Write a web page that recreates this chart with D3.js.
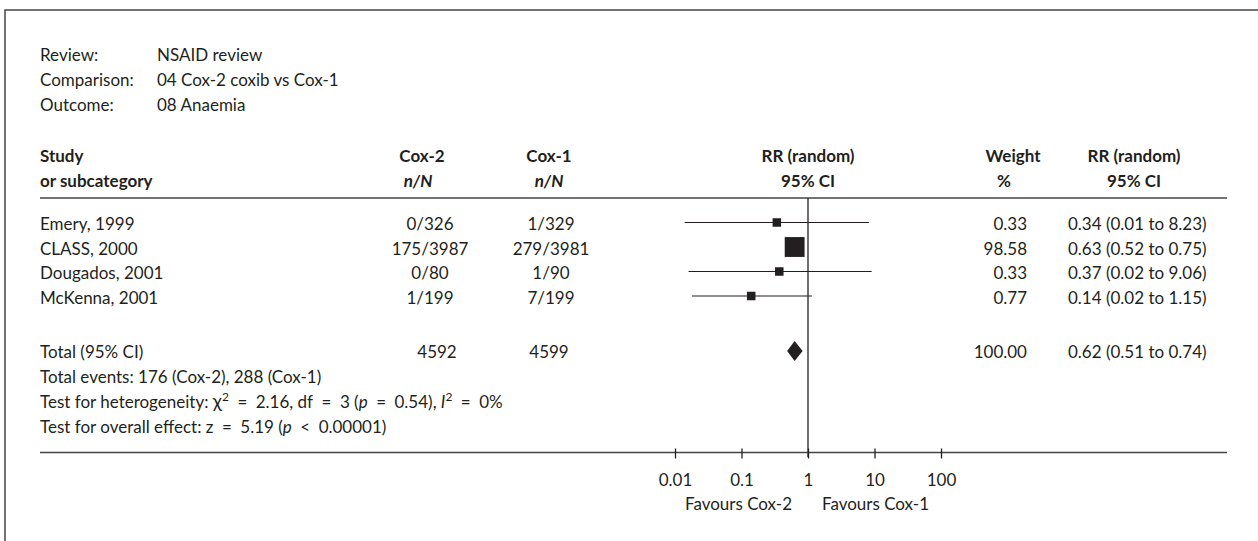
<!DOCTYPE html>
<html>
<head>
<meta charset="utf-8">
<script src="https://cdn.jsdelivr.net/npm/d3@7"></script>
<style>
  html, body { margin: 0; padding: 0; background: #fff; }
  svg text { font-family: Lato, "Open Sans", sans-serif; fill: #231f20; }
</style>
</head>
<body>
<svg id="chart" width="1258" height="541"></svg>
<script>
// ---- data ----
const metaLabels = ["Review:", "Comparison:", "Outcome:"];
const metaValues = ["NSAID review", "04 Cox-2 coxib vs Cox-1", "08 Anaemia"];
const studies = ["Emery, 1999", "CLASS, 2000", "Dougados, 2001", "McKenna, 2001"];
const cox2 = ["0/326", "175/3987", "0/80", "1/199"];
const cox1 = ["1/329", "279/3981", "1/90", "7/199"];
const rr = [0.34, 0.63, 0.37, 0.14];
const ciLow = [0.014, 0.52, 0.016, 0.018];
const ciHigh = [8.23, 0.75, 9.06, 1.15];
const weights = [0.33, 98.58, 0.33, 0.77];
const weightLabels = ["0.33", "98.58", "0.33", "0.77"];
const rrLabels = ["0.34 (0.01 to 8.23)", "0.63 (0.52 to 0.75)", "0.37 (0.02 to 9.06)", "0.14 (0.02 to 1.15)"];
const totalLabel = "Total (95% CI)";
const totalN = ["4592", "4599"];
const totalRR = 0.63;
const totalCI = [0.485, 0.83];
const totalWeight = "100.00";
const totalRRLabel = "0.62 (0.51 to 0.74)";
const tickValues = [0.01, 0.1, 1, 10, 100];
const tickLabels = ["0.01", "0.1", "1", "10", "100"];
const favours = ["Favours Cox-2", "Favours Cox-1"];

// ---- layout ----
const svg = d3.select("#chart");
const FS = 17;
const ink = "#231f20";
const ES = "\u2002"; // en space used around operators
svg.append("rect").attr("width", 1258).attr("height", 541).attr("fill", "#fff");
svg.append("path").attr("d", "M5,541V10H1258").attr("fill", "none").attr("stroke", "#444").attr("stroke-width", 1.5);

const x = d3.scaleLog().domain([0.01, 100]).range([675, 941]);
const rowY = d3.scalePoint().domain(studies).range([222.5, 296]);

function txt(s, xx, yy, anchor, opts = {}) {
  const t = svg.append("text").attr("x", xx).attr("y", yy).attr("text-anchor", anchor || "start")
    .attr("font-size", FS).text(s);
  if (opts.bold) t.attr("font-weight", "bold");
  if (opts.italic) t.attr("font-style", "italic");
  return t;
}

// meta header
metaLabels.forEach((l, i) => {
  txt(l, 40, 61 + i * 25);
  txt(metaValues[i], 157, 61 + i * 25);
});

// column headers
const h1 = 162, h2 = 187;
txt("Study", 40, h1, "start", {bold: true});
txt("or subcategory", 40, h2, "start", {bold: true});
txt("Cox-2", 422, h1, "middle", {bold: true});
txt("n/N", 418, h2, "middle", {bold: true, italic: true});
txt("Cox-1", 549, h1, "middle", {bold: true});
txt("n/N", 549, h2, "middle", {bold: true, italic: true});
txt("RR (random)", x(1), h1, "middle", {bold: true});
txt("95% CI", x(1), h2, "middle", {bold: true});
txt("Weight", 1013, h1, "middle", {bold: true});
txt("%", 1004, h2, "middle", {bold: true});
txt("RR (random)", 1134, h1, "middle", {bold: true});
txt("95% CI", 1134, h2, "middle", {bold: true});

svg.append("line").attr("x1", 40).attr("x2", 1227).attr("y1", 198).attr("y2", 198)
  .attr("stroke", "#444").attr("stroke-width", 1.5);

// rows
const dy = 7.5;
studies.forEach((s, i) => {
  const y = rowY(s);
  txt(s, 40, y + dy);
  txt(cox2[i], 430, y + dy, "middle");
  txt(cox1[i], 551, y + dy, "middle");
  txt(weightLabels[i], 1027, y + dy, "end");
  txt(rrLabels[i], 1068, y + dy, "start");
});

// total and notes
const yT = 351;
const tb = 358;
txt(totalLabel, 40, tb);
txt(totalN[0], 437, tb, "middle");
txt(totalN[1], 549, tb, "middle");
txt(totalWeight, 1027, tb, "end");
txt(totalRRLabel, 1068, tb, "start");
txt("Total events: 176 (Cox-2), 288 (Cox-1)", 40, tb + 25);
const het = txt("", 40, tb + 50);
het.append("tspan").text("Test for heterogeneity: ");
het.append("tspan").attr("font-size", 19).text("\u03c7");
het.append("tspan").attr("dy", -7).attr("font-size", 12).text("2");
het.append("tspan").attr("dy", 7).text(`${ES}=${ES}2.16, df${ES}=${ES}3 (`);
het.append("tspan").attr("font-style", "italic").text("p");
het.append("tspan").text(`${ES}=${ES}0.54), `);
het.append("tspan").attr("font-style", "italic").text("I");
het.append("tspan").attr("dy", -7).attr("font-size", 12).text("2");
het.append("tspan").attr("dy", 7).text(`${ES}=${ES}0%`);
const ov = txt("", 40, tb + 75);
ov.append("tspan").text(`Test for overall effect: z${ES}=${ES}5.19 (`);
ov.append("tspan").attr("font-style", "italic").text("p");
ov.append("tspan").text(`${ES}<${ES}0.00001)`);

// plot: null line
const yAxis = 452.5;
svg.append("line").attr("x1", x(1)).attr("x2", x(1)).attr("y1", 198).attr("y2", yAxis + 4.5)
  .attr("stroke", ink).attr("stroke-width", 1.3);

// CI lines
const g = svg.append("g");
g.selectAll("line.ci").data(studies).join("line").attr("class", "ci")
  .attr("x1", (d, i) => x(ciLow[i])).attr("x2", (d, i) => x(ciHigh[i]))
  .attr("y1", d => rowY(d)).attr("y2", d => rowY(d))
  .attr("stroke", ink).attr("stroke-width", 1.2);
// squares
const side = w => Math.max(8.5, 2 * Math.sqrt(w));
g.selectAll("rect.pt").data(studies).join("rect").attr("class", "pt")
  .attr("x", (d, i) => x(rr[i]) - side(weights[i]) / 2)
  .attr("y", (d, i) => rowY(d) - side(weights[i]) / 2)
  .attr("width", (d, i) => side(weights[i])).attr("height", (d, i) => side(weights[i]))
  .attr("fill", ink);
// diamond
const dh = 10;
g.append("path").attr("fill", ink)
  .attr("d", `M${x(totalCI[0])},${yT}L${x(totalRR)},${yT - dh}L${x(totalCI[1])},${yT}L${x(totalRR)},${yT + dh}Z`);

// bottom axis
svg.append("line").attr("x1", 40).attr("x2", 1227).attr("y1", yAxis).attr("y2", yAxis)
  .attr("stroke", "#444").attr("stroke-width", 1.5);
const axis = d3.axisBottom(x).tickValues(tickValues).tickFormat((d, i) => tickLabels[i])
  .tickSize(6).tickPadding(15);
const ag = svg.append("g").attr("transform", `translate(0,${yAxis})`).call(axis);
ag.select(".domain").remove();
ag.selectAll(".tick line").attr("y1", -4).attr("stroke", ink).attr("stroke-width", 1.3);
ag.selectAll(".tick text").attr("font-size", FS).attr("font-family", "Lato, sans-serif").attr("fill", ink);

txt(favours[0], x(1) - 16, 510, "end");
txt(favours[1], x(1) + 14, 510, "start");
</script>
</body>
</html>
